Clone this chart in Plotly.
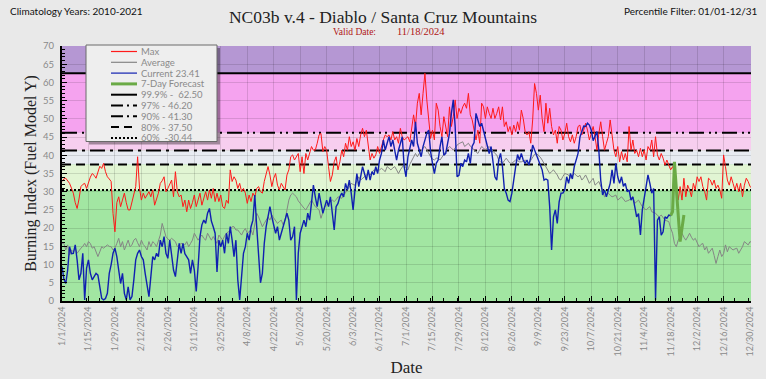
import pandas as pd
import plotly.graph_objects as go

# ---------------- data ----------------
START = "2024-01-01"

max_bi = [
    32.8, 33.5, 33.7, 33.0, 32.3, 31.0, 29.6, 27.0, 25.4, 28.0,
    31.4, 32.0, 32.3, 30.9, 32.8, 34.0, 35.0, 34.5, 33.7, 35.5,
    37.0, 36.4, 37.8, 35.5, 34.1, 33.5, 32.8, 24.0, 19.0, 27.0,
    28.6, 25.9, 27.7, 29.6, 27.0, 25.0, 25.0, 27.3, 29.6, 31.4,
    39.6, 31.0, 27.7, 29.6, 28.2, 29.0, 30.0, 28.6, 30.5, 26.3,
    28.0, 29.6, 32.3, 33.0, 34.1, 30.0, 30.9, 32.0, 33.2, 28.6,
    35.5, 30.0, 28.6, 29.1, 25.9, 27.7, 24.5, 27.7, 25.4, 27.0,
    29.1, 25.9, 27.7, 29.6, 26.3, 28.6, 30.0, 27.7, 30.5, 28.2,
    30.9, 27.3, 29.6, 27.3, 29.1, 25.9, 25.4, 27.7, 26.8, 36.0,
    32.8, 34.1, 33.2, 30.9, 32.3, 30.0, 30.9, 29.6, 26.8, 29.1,
    27.3, 29.6, 28.6, 30.9, 31.4, 30.0, 29.6, 32.8, 35.0, 36.9,
    34.6, 31.4, 33.7, 35.0, 31.8, 30.5, 32.3, 31.4, 30.5, 34.6,
    36.0, 39.6, 40.1, 38.7, 39.6, 40.5, 35.5, 39.6, 35.0, 40.5,
    38.7, 40.5, 42.4, 41.4, 41.4, 43.3, 45.6, 46.0, 41.0, 42.4,
    41.4, 36.9, 32.8, 34.6, 38.2, 39.6, 36.0, 38.2, 41.4, 39.6,
    43.3, 41.4, 45.1, 42.4, 43.7, 41.4, 44.6, 42.4, 45.6, 47.4,
    45.1, 46.9, 43.3, 38.7, 40.5, 39.2, 40.1, 42.4, 40.5, 42.8,
    44.2, 45.6, 45.1, 45.6, 44.2, 46.5, 44.2, 45.1, 43.3, 47.4,
    45.1, 44.2, 44.6, 45.1, 43.7, 47.9, 51.1, 47.9, 54.3, 57.0,
    51.1, 57.0, 62.5, 55.2, 49.7, 44.6, 46.9, 44.2, 54.3, 52.4,
    47.9, 45.1, 50.6, 47.9, 45.1, 53.3, 47.9, 50.6, 55.2, 50.1,
    52.9, 51.5, 53.3, 54.3, 52.9, 57.0, 51.1, 49.7, 46.5, 44.2,
    46.9, 43.3, 54.3, 53.3, 50.1, 53.3, 51.5, 50.1, 52.9, 50.1,
    51.5, 53.3, 49.7, 53.3, 47.9, 49.2, 46.5, 47.9, 45.6, 48.3,
    46.5, 49.2, 46.9, 52.4, 50.1, 46.5, 45.6, 46.5, 43.3, 49.7,
    59.7, 57.0, 52.4, 56.5, 50.1, 46.5, 54.3, 48.8, 52.9, 47.9,
    45.6, 46.9, 43.3, 47.9, 46.9, 44.2, 46.0, 48.8, 45.1, 43.7,
    45.6, 43.3, 45.1, 47.9, 48.3, 45.6, 46.9, 48.8, 46.9, 44.2,
    46.0, 47.9, 45.1, 41.4, 46.0, 49.2, 45.1, 41.4, 43.3, 45.1,
    49.7, 45.1, 41.4, 39.6, 42.4, 38.2, 41.0, 38.7, 40.5, 38.2,
    47.9, 41.4, 44.2, 40.5, 41.4, 39.6, 41.9, 39.6, 41.4, 38.7,
    42.4, 41.4, 44.2, 39.6, 45.1, 40.1, 38.7, 40.5, 39.2, 37.3,
    38.7, 37.3, 36.0, 36.9, 35.5, 31.8, 27.7, 31.4, 27.7, 33.7,
    28.6, 31.8, 30.5, 28.6, 32.3, 30.5, 34.1, 32.8, 34.1, 31.4,
    30.0, 27.7, 33.7, 33.2, 31.8, 33.2, 30.9, 31.8, 30.5, 28.2,
    40.1, 36.9, 33.2, 31.8, 34.1, 32.3, 30.5, 32.3, 30.0, 32.3,
    28.6, 31.8, 33.7, 32.8, 31.4, 31.0,
]

avg_bi = [
    15.8, 15.8, 14.0, 15.4, 12.6, 14.0, 13.5, 14.5, 13.1, 14.0,
    14.5, 15.0, 15.8, 14.9, 16.3, 15.8, 14.5, 14.9, 13.5, 12.2,
    13.5, 14.9, 14.5, 15.0, 15.4, 15.0, 14.9, 14.0, 14.5, 15.8,
    17.2, 14.9, 16.3, 14.0, 15.5, 16.7, 14.9, 15.4, 16.7, 17.2,
    16.0, 14.9, 16.7, 15.5, 14.9, 14.0, 16.3, 14.9, 16.3, 15.8,
    14.9, 16.7, 18.1, 21.3, 19.5, 17.7, 17.0, 16.7, 17.2, 16.8,
    16.3, 14.9, 15.4, 15.8, 15.6, 15.4, 16.3, 14.9, 15.8, 16.7,
    18.6, 17.5, 16.7, 17.5, 18.1, 17.2, 16.7, 18.6, 17.5, 16.7,
    17.7, 16.8, 15.8, 18.1, 17.2, 16.7, 17.8, 18.6, 19.0, 19.5,
    20.4, 20.4, 19.5, 19.5, 18.8, 18.1, 19.2, 19.9, 18.6, 19.0,
    19.5, 18.1, 21.3, 24.1, 23.1, 21.5, 20.4, 21.3, 22.2, 23.1,
    22.2, 23.6, 22.8, 22.2, 21.3, 21.8, 22.2, 20.9, 22.2, 25.0,
    27.7, 29.1, 29.6, 29.1, 28.6, 27.5, 26.8, 25.9, 25.5, 25.0,
    25.9, 26.8, 27.7, 26.8, 25.9, 25.5, 25.0, 22.7, 24.1, 25.9,
    26.3, 26.8, 27.2, 27.7, 27.3, 27.8, 28.6, 28.4, 28.2, 29.0,
    29.6, 30.5, 31.4, 32.3, 32.0, 31.8, 33.0, 34.1, 33.2, 33.6,
    34.1, 34.5, 35.0, 34.6, 35.2, 36.0, 35.8, 35.5, 36.0, 36.4,
    36.0, 35.5, 36.9, 36.5, 36.0, 36.5, 36.9, 36.0, 35.0, 36.0,
    36.9, 37.5, 36.5, 36.0, 37.5, 38.7, 39.5, 40.5, 39.6, 40.5,
    41.4, 42.0, 42.4, 41.4, 40.5, 39.6, 39.0, 38.7, 39.2, 39.2,
    38.7, 39.6, 40.5, 41.0, 41.8, 42.4, 42.0, 41.4, 42.0, 42.8,
    43.2, 43.5, 43.7, 42.4, 43.0, 43.3, 42.5, 42.0, 41.4, 40.9,
    40.5, 41.5, 42.4, 42.0, 41.4, 42.0, 42.4, 41.8, 41.0, 40.5,
    40.1, 38.7, 38.2, 37.8, 38.5, 39.2, 38.5, 37.8, 37.8, 38.3,
    38.7, 38.5, 38.2, 38.2, 38.5, 38.7, 38.3, 37.8, 38.6, 39.6,
    40.3, 40.5, 40.1, 39.5, 38.7, 37.8, 36.9, 36.0, 35.0, 35.5,
    36.0, 35.3, 34.6, 33.5, 33.2, 34.2, 35.0, 34.8, 34.6, 33.7,
    34.3, 35.0, 34.5, 34.1, 34.5, 33.2, 33.8, 34.6, 33.5, 32.3,
    33.0, 33.7, 31.8, 32.3, 32.8, 31.5, 30.5, 28.6, 29.0, 29.6,
    29.0, 28.6, 28.8, 29.1, 27.7, 28.2, 28.6, 28.0, 27.3, 27.5,
    27.7, 28.2, 28.6, 26.8, 27.2, 27.7, 26.8, 25.9, 25.5, 25.0,
    25.5, 25.9, 24.5, 24.3, 24.1, 23.5, 23.1, 23.6, 22.9, 22.2,
    22.0, 21.8, 20.0, 18.6, 15.8, 14.9, 16.7, 17.7, 18.6, 17.5,
    16.7, 17.6, 18.6, 17.5, 16.7, 17.2, 16.0, 14.9, 15.5, 15.8,
    14.0, 14.9, 13.1, 13.8, 14.5, 12.5, 10.3, 12.2, 14.0, 12.2,
    13.0, 15.4, 13.5, 14.9, 14.5, 14.0, 14.3, 14.5, 13.1, 14.0,
    14.9, 16.3, 15.8, 15.4, 16.3, 16.0,
]

current_bi = [
    9.5, 6.0, 4.8, 8.5, 14.9, 13.0, 13.1, 15.4, 11.3, 5.8,
    7.6, 13.1, 0.3, 9.0, 11.3, 7.6, 5.8, 6.7, 7.6, 7.1,
    3.9, 0.7, 0.3, 0.7, 2.1, 7.6, 10.0, 13.1, 14.5, 12.2,
    8.5, 4.8, 7.6, 2.1, 0.3, 3.9, 0.3, 1.2, 5.8, 11.3,
    13.1, 14.0, 12.2, 11.3, 7.6, 3.9, 1.2, 6.7, 12.2, 11.3,
    13.1, 12.2, 16.7, 14.9, 17.7, 13.1, 11.7, 16.7, 13.1, 8.5,
    6.7, 12.2, 15.8, 13.1, 15.8, 13.0, 12.2, 11.3, 7.6, 11.3,
    8.5, 2.6, 9.4, 17.7, 20.9, 22.2, 21.3, 24.1, 25.4, 22.0,
    20.4, 18.6, 8.0, 16.7, 14.9, 16.7, 13.1, 18.6, 15.8, 20.4,
    16.7, 12.2, 16.7, 5.8, 0.3, 7.6, 13.1, 14.9, 18.6, 16.7,
    20.4, 22.2, 29.1, 20.4, 13.1, 5.0, 7.6, 15.8, 20.4, 23.1,
    25.9, 23.1, 20.4, 18.6, 20.4, 16.7, 18.6, 20.4, 22.0, 24.1,
    22.2, 16.7, 17.7, 20.4, 0.3, 13.1, 18.6, 20.4, 22.2, 20.4,
    24.1, 22.2, 27.0, 31.8, 28.6, 25.9, 29.6, 26.8, 24.1, 25.9,
    27.7, 25.9, 28.6, 24.1, 19.5, 25.9, 26.8, 28.6, 29.6, 28.6,
    32.3, 30.5, 33.2, 29.6, 25.0, 30.5, 35.0, 31.4, 34.1, 36.9,
    35.0, 33.2, 36.0, 33.2, 35.5, 34.6, 36.9, 35.0, 38.7, 40.5,
    44.2, 41.4, 43.3, 45.1, 42.4, 44.2, 41.4, 38.7, 41.4, 43.0,
    45.1, 36.9, 34.1, 39.6, 42.4, 44.2, 42.4, 49.2, 43.3, 41.4,
    39.6, 42.4, 44.2, 46.0, 46.9, 41.0, 37.8, 35.0, 37.8, 38.7,
    42.4, 45.1, 40.0, 40.5, 43.3, 46.0, 51.5, 55.2, 47.9, 34.1,
    34.5, 37.8, 36.9, 38.7, 38.2, 40.5, 37.8, 42.5, 43.5, 51.5,
    49.7, 47.9, 48.8, 46.5, 45.1, 42.0, 40.5, 42.4, 38.7, 34.1,
    33.2, 38.7, 40.5, 37.0, 30.9, 29.6, 27.7, 27.3, 29.6, 34.1,
    36.9, 40.2, 38.7, 40.5, 38.7, 37.8, 38.7, 37.3, 39.5, 42.8,
    41.4, 40.5, 38.7, 37.8, 36.0, 33.2, 33.5, 33.2, 25.9, 14.0,
    23.1, 25.0, 21.3, 27.2, 29.6, 29.6, 30.5, 34.1, 32.3, 35.0,
    33.5, 36.9, 38.7, 40.5, 45.0, 46.5, 48.0, 47.9, 48.8, 48.3,
    46.9, 44.0, 45.1, 46.5, 41.4, 33.2, 29.1, 30.5, 28.6, 30.5,
    32.3, 36.0, 32.3, 37.8, 34.1, 32.3, 34.1, 31.5, 32.3, 30.0,
    30.5, 27.7, 28.6, 25.9, 23.1, 24.0, 18.1, 25.0, 28.6, 31.4,
    34.6, 32.3, 29.6, 30.9, 0.3, 22.2, 23.1, 18.1, 19.0, 23.1,
    22.7, 23.6, 23.41,
]

forecast_start = "2024-11-18"
forecast_bi = [23.41, 24.5, 38.2, 30.0, 24.0, 16.3, 20.0, 23.6]

pct_labels = ["99.9%", "97%", "90%", "80%", "60%"]
pct_values = [62.50, 46.20, 41.30, 37.50, 30.44]
y_top = 70

# ---------------- derived x values ----------------
dates_all = pd.date_range(START, periods=len(max_bi), freq="D")
dates_cur = pd.date_range(START, periods=len(current_bi), freq="D")
dates_fc = pd.date_range(forecast_start, periods=len(forecast_bi), freq="D")
x_lo = pd.Timestamp("2024-01-01")
x_hi = pd.Timestamp("2024-12-30 12:00")

# ---------------- styles ----------------
C_MAX = "#ff1a1a"
C_AVG = "#858585"
C_CUR = "#1020b0"
C_FC = "#6aaa46"
pct_dash = ["solid", "15px,5px,2px,4px,2px,5px", "15px,5px,3px,5px", "9px,5px", "2px,2px"]
leg_dash = ["solid", "12px,4px,2px,4px", "12px,4px,2px,4px", "8px,5px", "2px,2px"]
band_colors = ["#a2e6a2", "#e1f5d3", "#e8ecf2", "#f7ceef", "#f5a3ef", "#b597d3"]
SERIF = "Liberation Serif"
SANS = "Lato"

# plot area in pixels (766 x 379 page)
L, R, T, B = 62, 15, 46, 78
PW, PH = 766 - L - R, 379 - T - B


def px(x):
    return (x - L) / PW


def py(y):
    return (379 - B - y) / PH


fig = go.Figure()

# threshold lines (traces across the full date range)
for lab, val, dash in zip(pct_labels, pct_values, pct_dash):
    fig.add_trace(go.Scatter(x=[x_lo, x_hi], y=[val, val], mode="lines",
                             line=dict(color="black", width=2, dash=dash),
                             hoverinfo="skip", showlegend=False))

fig.add_trace(go.Scatter(x=dates_all, y=avg_bi, mode="lines", name="Average",
                         line=dict(color=C_AVG, width=1), showlegend=False))
fig.add_trace(go.Scatter(x=dates_all, y=max_bi, mode="lines", name="Max",
                         line=dict(color=C_MAX, width=1), showlegend=False))
fig.add_trace(go.Scatter(x=dates_cur, y=current_bi, mode="lines", name="Current",
                         line=dict(color=C_CUR, width=1.4), showlegend=False))
fig.add_trace(go.Scatter(x=dates_fc, y=forecast_bi, mode="lines", name="7-Day Forecast",
                         line=dict(color=C_FC, width=3), showlegend=False))

shapes = []
# background bands
edges = [0] + sorted(pct_values) + [y_top]
for i, col in enumerate(band_colors):
    shapes.append(dict(type="rect", xref="paper", yref="y", x0=0, x1=1,
                       y0=edges[i], y1=edges[i + 1], fillcolor=col,
                       line=dict(width=0), layer="below"))

# manual legend
bx0, bx1, by0, by1 = 86, 217, 45, 141.5
shapes.append(dict(type="rect", xref="paper", yref="paper", x0=px(bx0 + 3), x1=px(bx1 + 3),
                   y0=py(by0 + 3), y1=py(by1 + 3), fillcolor="rgba(0,0,0,0.35)",
                   line=dict(width=0), layer="above"))
shapes.append(dict(type="rect", xref="paper", yref="paper", x0=px(bx0), x1=px(bx1),
                   y0=py(by0), y1=py(by1), fillcolor="#eeeeee",
                   line=dict(color="#6a6a6a", width=1), layer="above"))

leg_items = [("Max", C_MAX, 1.2, "solid"),
             ("Average", C_AVG, 1.2, "solid"),
             (f"Current {current_bi[-1]:.2f}", C_CUR, 1.2, "solid"),
             ("7-Day Forecast", C_FC, 3, "solid")]
for lab, val, dash in zip(pct_labels, pct_values, leg_dash):
    if lab == "60%":
        text = f"{lab}  -{val:.2f}"
    elif lab == "99.9%":
        text = f"{lab} -  {val:.2f}"
    else:
        text = f"{lab} - {val:.2f}"
    leg_items.append((text, "black", 2, dash))

annotations = []
for i, (text, col, w, dash) in enumerate(leg_items):
    yy = 51.5 + i * 10.8
    shapes.append(dict(type="line", xref="paper", yref="paper", x0=px(111), x1=px(137),
                       y0=py(yy), y1=py(yy), line=dict(color=col, width=w, dash=dash),
                       layer="above"))
    annotations.append(dict(xref="paper", yref="paper", x=px(139), y=py(yy), text=text,
                            showarrow=False, xanchor="left", yanchor="middle",
                            font=dict(family=SANS, size=9.5, color="#8a8a8a")))

# header texts
annotations.append(dict(xref="paper", yref="paper", x=px(8), y=py(11),
                        text="Climatology Years: 2010-2021", showarrow=False,
                        xanchor="left", yanchor="middle",
                        font=dict(family=SANS, size=10, color="#111")))
annotations.append(dict(xref="paper", yref="paper", x=px(760), y=py(11),
                        text="Percentile Filter: 01/01-12/31", showarrow=False,
                        xanchor="right", yanchor="middle",
                        font=dict(family=SANS, size=10, color="#111")))
annotations.append(dict(xref="paper", yref="paper", x=px(378), y=py(32),
                        text="Valid Date:", showarrow=False, xanchor="right", yanchor="middle",
                        font=dict(family=SERIF, size=9.5, color="#b01515")))
valid = dates_cur[-1]
annotations.append(dict(xref="paper", yref="paper", x=px(395), y=py(32),
                        text=valid.strftime("%m/%d/%Y"), showarrow=False, xanchor="left",
                        yanchor="middle",
                        font=dict(family=SERIF, size=10.5, color="#b01515")))

fig.update_layout(
    width=766, height=379,
    margin=dict(l=L, r=R, t=T, b=B, autoexpand=False),
    paper_bgcolor="#e9e9e9",
    plot_bgcolor="#a2e6a2",
    showlegend=False,
    title=dict(text="NC03b v.4 - Diablo / Santa Cruz Mountains", x=0.5, xanchor="center",
               xref="container", y=1 - 17 / 379, yanchor="middle", yref="container",
               font=dict(family=SERIF, size=17.5, color="#222")),
    shapes=shapes,
    annotations=annotations,
    xaxis=dict(
        type="date", range=[x_lo, x_hi], tick0="2024-01-01", dtick=14 * 86400000,
        tickformat="%-m/%-d/%Y", tickangle=-90,
        tickfont=dict(family=SANS, size=9, color="#8a8a8a"),
        ticks="inside", ticklen=5, tickcolor="black", tickwidth=1,
        minor=dict(dtick=7 * 86400000, ticks="inside", ticklen=3, tickcolor="black", showgrid=False),
        showgrid=True, gridcolor="rgba(0,0,0,0.12)", gridwidth=1,
        showline=True, linecolor="black", linewidth=2, zeroline=False,
        title=dict(text="Date", standoff=6, font=dict(family=SERIF, size=17, color="#222")),
        automargin=False,
    ),
    yaxis=dict(
        range=[0, y_top], dtick=5, tick0=0,
        tickfont=dict(family=SANS, size=9.5, color="#8a8a8a"),
        ticks="inside", ticklen=5, tickcolor="black", tickwidth=1,
        minor=dict(dtick=1, ticks="inside", ticklen=3, tickcolor="black", showgrid=False),
        showgrid=True, gridcolor="rgba(0,0,0,0.12)", gridwidth=1,
        showline=True, linecolor="black", linewidth=2, zeroline=False,
        ticklabelstandoff=4,
        title=dict(text="Burning Index (Fuel Model Y)", standoff=2,
                   font=dict(family=SERIF, size=16, color="#222")),
        automargin=False,
    ),
)

fig.write_html("out.html", config={"displayModeBar": False},
               post_script="document.body.style.margin='0';")
